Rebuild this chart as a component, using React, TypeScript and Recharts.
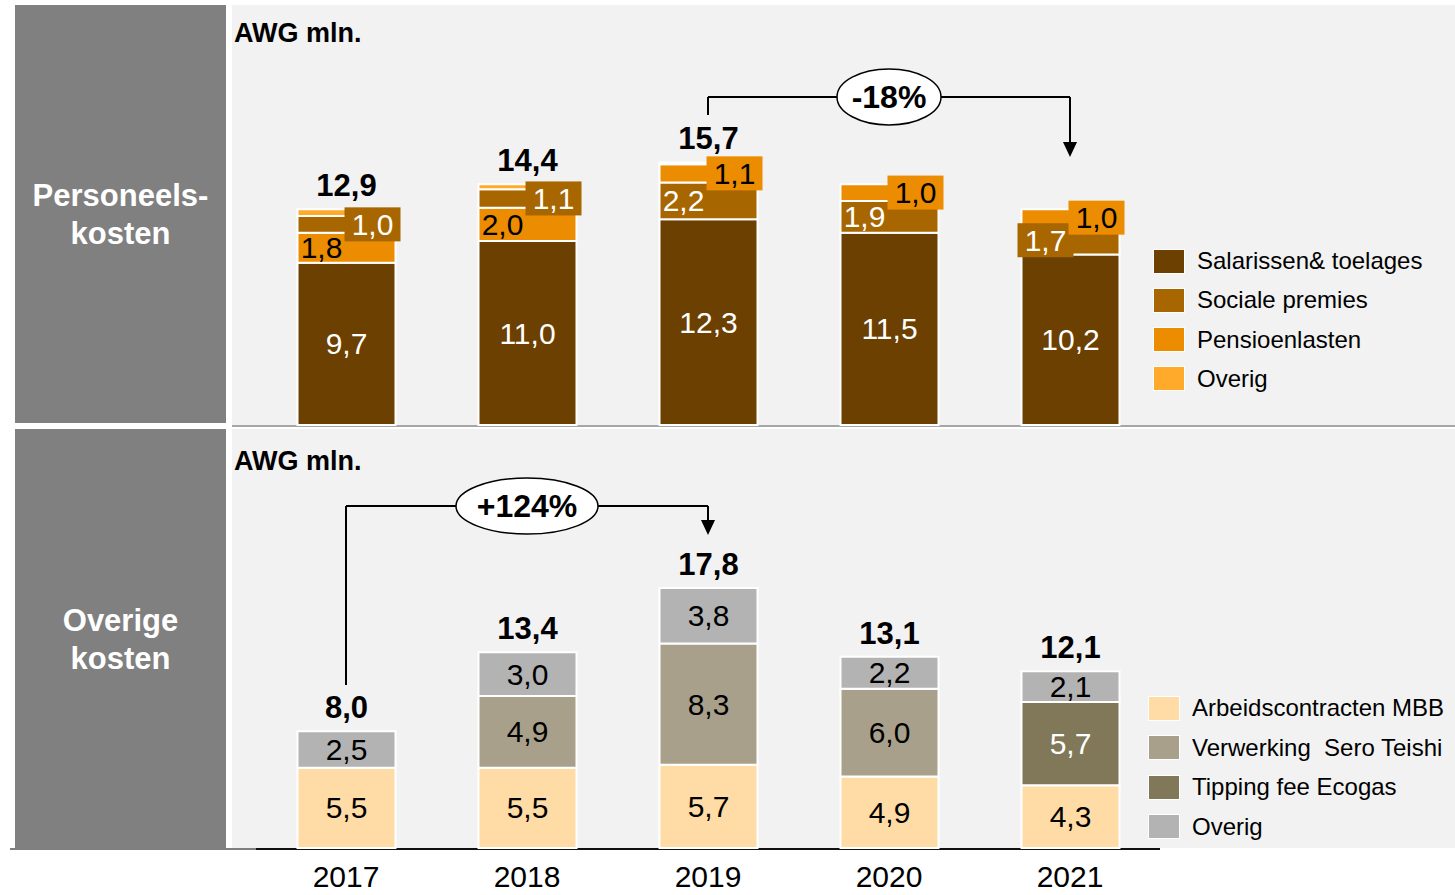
import React from 'react';
import { BarChart, Bar, XAxis, YAxis, LabelList, ReferenceLine, ReferenceDot } from 'recharts';

const FONT = '"Liberation Sans", Arial, sans-serif';

const years = ['2017', '2018', '2019', '2020', '2021'];

// Personeelskosten, AWG mln.
const salarissen = [9.7, 11.0, 12.3, 11.5, 10.2];
const socialePremies = [1.0, 1.1, 2.2, 1.9, 1.7];
const pensioenlasten = [1.8, 2.0, 1.1, 1.0, 1.0];
const overigPersoneel = [0.4, 0.3, 0.1, 0.0, 0.0];
const totaalPersoneel = [12.9, 14.4, 15.7, 14.4, 12.9];
// in 2017 and 2018 the pension block is drawn below sociale premies
const pensioenOnder = [true, true, false, false, false];

// Overige kosten, AWG mln.
const arbeidscontracten = [5.5, 5.5, 5.7, 4.9, 4.3];
const verwerkingSero = [0, 4.9, 8.3, 6.0, 0];
const tippingFee = [0, 0, 0, 0, 5.7];
const overigKosten = [2.5, 3.0, 3.8, 2.2, 2.1];
const totaalOverig = [8.0, 13.4, 17.8, 13.1, 12.1];

// growth brackets: from / to category, heights in AWG mln.
const bracketTop = { from: '2019', to: '2021', mid: '2020', start: 18.54, line: 19.62, tip: 16.03, text: '-18%', rx: 52 };
const bracketBottom = { from: '2017', to: '2019', mid: '2018', start: 11.16, line: 23.41, tip: 21.43, text: '+124%', rx: 71 };

const C = {
  sal: '#6B4000',
  soc: '#A86600',
  pens: '#EC8C00',
  ovP: '#FFAA2A',
  arb: '#FFDBA6',
  ver: '#A8A08A',
  tip: '#807859',
  ovK: '#B3B3B3',
};

const personeelLegend = [
  { name: 'Salarissen& toelages', color: C.sal },
  { name: 'Sociale premies', color: C.soc },
  { name: 'Pensioenlasten', color: C.pens },
  { name: 'Overig', color: C.ovP },
];
const overigLegend = [
  { name: 'Arbeidscontracten MBB', color: C.arb },
  { name: 'Verwerking  Sero Teishi', color: C.ver },
  { name: 'Tipping fee Ecogas', color: C.tip },
  { name: 'Overig', color: C.ovK },
];

const personeelData = years.map((year, i) => ({
  year,
  sal: salarissen[i],
  pensLow: pensioenOnder[i] ? pensioenlasten[i] : 0,
  soc: socialePremies[i],
  pensHigh: pensioenOnder[i] ? 0 : pensioenlasten[i],
  ov: overigPersoneel[i],
  socLowLabel: pensioenOnder[i] ? null : socialePremies[i],
  socHighLabel: pensioenOnder[i] ? socialePremies[i] : null,
  total: totaalPersoneel[i],
}));

const overigData = years.map((year, i) => ({
  year,
  arb: arbeidscontracten[i],
  ver: verwerkingSero[i],
  tip: tippingFee[i],
  ov: overigKosten[i],
  total: totaalOverig[i],
}));

const fmt = (v: number) => v.toFixed(1).replace('.', ',');

const rectOf = (p: any) => {
  const vb = p.viewBox || {};
  return {
    x: Number(p.x ?? vb.x),
    y: Number(p.y ?? vb.y),
    width: Number(p.width ?? vb.width),
    height: Number(p.height ?? vb.height),
  };
};

const centerLabel = (color: string) => (p: any) => {
  if (p.value == null || !Number(p.value)) return null;
  const r = rectOf(p);
  return (
    <text x={r.x + r.width / 2} y={r.y + r.height / 2} fill={color} fontSize={30}
      fontFamily={FONT} textAnchor="middle" dominantBaseline="central">
      {fmt(Number(p.value))}
    </text>
  );
};

// label sitting at the left side of the lower of the two small blocks
const lowerLabel = (fill: string, color: string) => (p: any) => {
  if (p.value == null || !Number(p.value)) return null;
  const r = rectOf(p);
  const cy = r.y + r.height / 2;
  return (
    <g>
      {r.height < 30 && <rect x={r.x - 4} y={cy - 17} width={56} height={34} fill={fill} />}
      <text x={r.x + 24} y={cy} fill={color} fontSize={30} fontFamily={FONT}
        textAnchor="middle" dominantBaseline="central">
        {fmt(Number(p.value))}
      </text>
    </g>
  );
};

// boxed label at the right side for the upper small block
const upperLabel = (fill: string, color: string) => (p: any) => {
  if (p.value == null || !Number(p.value)) return null;
  const r = rectOf(p);
  const cy = r.y + r.height / 2;
  return (
    <g>
      <rect x={r.x + 47} y={cy - 17} width={56} height={34} fill={fill} />
      <text x={r.x + 75} y={cy} fill={color} fontSize={30} fontFamily={FONT}
        textAnchor="middle" dominantBaseline="central">
        {fmt(Number(p.value))}
      </text>
    </g>
  );
};

const totalLabel = (p: any) => {
  const r = rectOf(p);
  return (
    <text x={r.x + r.width / 2} y={r.y - 13} fill="#000" fontSize={31} fontWeight="bold"
      fontFamily={FONT} textAnchor="middle">
      {fmt(Number(p.value))}
    </text>
  );
};

const arrowHead = (p: any) => (
  <path d={`M${p.cx - 7},${p.cy - 15} L${p.cx + 7},${p.cy - 15} L${p.cx},${p.cy} Z`} fill="#000" />
);

const bubble = (text: string, rx: number) => (p: any) => (
  <g>
    <ellipse cx={p.cx} cy={p.cy} rx={rx} ry={28} fill="#fff" stroke="#000" strokeWidth={1.5} />
    <text x={p.cx} y={p.cy} fontSize={32} fontWeight="bold" fontFamily={FONT}
      textAnchor="middle" dominantBaseline="central" fill="#000">
      {text}
    </text>
  </g>
);

const Bracket = (b: typeof bracketTop) => [
  <ReferenceLine key="a" segment={[{ x: b.from, y: b.start }, { x: b.from, y: b.line }]} stroke="#000" strokeWidth={2} />,
  <ReferenceLine key="b" segment={[{ x: b.from, y: b.line }, { x: b.to, y: b.line }]} stroke="#000" strokeWidth={2} />,
  <ReferenceLine key="c" segment={[{ x: b.to, y: b.line }, { x: b.to, y: b.tip + 0.6 }]} stroke="#000" strokeWidth={2} />,
  <ReferenceDot key="d" x={b.to} y={b.tip} r={1} shape={arrowHead} />,
  <ReferenceDot key="e" x={b.mid} y={b.line} r={1} shape={bubble(b.text, b.rx)} />,
];

const yearTick = (p: any) => (
  <text x={p.x} y={p.y + 39} textAnchor="middle" fontSize={30} fontFamily={FONT} fill="#000">
    {p.payload.value}
  </text>
);

const Legend = ({ items, left, top, gap }: { items: { name: string; color: string }[]; left: number; top: number; gap: number }) => (
  <div style={{ position: 'absolute', left, top }}>
    {items.map((it, i) => (
      <div key={it.name} style={{ position: 'absolute', top: i * gap, left: 0, display: 'flex', alignItems: 'center', whiteSpace: 'pre' }}>
        <div style={{ width: 32, height: 25, background: it.color, border: '1px solid #fff', boxSizing: 'border-box' }} />
        <span style={{ marginLeft: 12, fontSize: 24, fontFamily: FONT, color: '#000' }}>{it.name}</span>
      </div>
    ))}
  </div>
);

const sideLabel: React.CSSProperties = {
  position: 'absolute', left: 15, width: 211, background: '#808080', color: '#fff',
  fontFamily: FONT, fontWeight: 'bold', fontSize: 31, lineHeight: '38px',
  display: 'flex', alignItems: 'center', justifyContent: 'center', textAlign: 'center',
};

export default function App() {
  return (
    <div style={{ position: 'absolute', left: 0, top: 0, width: 1455, height: 895, background: '#fff', overflow: 'hidden' }}>
      <div style={{ ...sideLabel, top: 5, height: 418 }}>
        <div style={{ marginTop: 2 }}>Personeels-<br />kosten</div>
      </div>
      <div style={{ ...sideLabel, top: 429, height: 419 }}>
        <div style={{ marginTop: 2 }}>Overige<br />kosten</div>
      </div>

      <div style={{ position: 'absolute', left: 232, top: 5, width: 1223, height: 420, background: '#F2F2F2' }} />
      <div style={{ position: 'absolute', left: 232, top: 425, width: 1223, height: 2, background: '#A6A6A6' }} />
      <div style={{ position: 'absolute', left: 232, top: 429, width: 1223, height: 419, background: '#F2F2F2' }} />
      <div style={{ position: 'absolute', left: 10, top: 848, width: 246, height: 2, background: '#7F7F7F' }} />
      <div style={{ position: 'absolute', left: 256, top: 848, width: 904, height: 2, background: '#111' }} />

      <div style={{ position: 'absolute', left: 234, top: 18, fontFamily: FONT, fontWeight: 'bold', fontSize: 27 }}>AWG mln.</div>
      <div style={{ position: 'absolute', left: 234, top: 446, fontFamily: FONT, fontWeight: 'bold', fontSize: 27 }}>AWG mln.</div>

      <div style={{ position: 'absolute', left: 232, top: 0 }}>
        <BarChart width={1223} height={430} data={personeelData}
          margin={{ top: 7, right: 294.5, bottom: 5, left: 23.5 }} barSize={98}>
          <XAxis dataKey="year" hide />
          <YAxis hide domain={[0, 25]} />
          <Bar dataKey="sal" stackId="p" fill={C.sal} stroke="#fff" strokeWidth={2} isAnimationActive={false}>
            <LabelList dataKey="sal" content={centerLabel('#fff')} />
          </Bar>
          <Bar dataKey="pensLow" stackId="p" fill={C.pens} stroke="#fff" strokeWidth={2} isAnimationActive={false}>
            <LabelList dataKey="pensLow" content={lowerLabel(C.pens, '#000')} />
          </Bar>
          <Bar dataKey="soc" stackId="p" fill={C.soc} stroke="#fff" strokeWidth={2} isAnimationActive={false}>
            <LabelList dataKey="socLowLabel" content={lowerLabel(C.soc, '#fff')} />
            <LabelList dataKey="socHighLabel" content={upperLabel(C.soc, '#fff')} />
          </Bar>
          <Bar dataKey="pensHigh" stackId="p" fill={C.pens} stroke="#fff" strokeWidth={2} isAnimationActive={false}>
            <LabelList dataKey="pensHigh" content={upperLabel(C.pens, '#000')} />
          </Bar>
          <Bar dataKey="ov" stackId="p" fill={C.ovP} stroke="#fff" strokeWidth={2} isAnimationActive={false}>
            <LabelList dataKey="total" content={totalLabel} />
          </Bar>
          {Bracket(bracketTop)}
        </BarChart>
      </div>

      <div style={{ position: 'absolute', left: 232, top: 430 }}>
        <BarChart width={1223} height={465} data={overigData}
          margin={{ top: 9, right: 294.5, bottom: 0, left: 23.5 }} barSize={98}>
          <XAxis dataKey="year" axisLine={false} tickLine={false} tickSize={0} tickMargin={0}
            height={47} tick={yearTick} interval={0} />
          <YAxis hide domain={[0, 28]} />
          <Bar dataKey="arb" stackId="o" fill={C.arb} stroke="#fff" strokeWidth={2} isAnimationActive={false}>
            <LabelList dataKey="arb" content={centerLabel('#000')} />
          </Bar>
          <Bar dataKey="ver" stackId="o" fill={C.ver} stroke="#fff" strokeWidth={2} isAnimationActive={false}>
            <LabelList dataKey="ver" content={centerLabel('#000')} />
          </Bar>
          <Bar dataKey="tip" stackId="o" fill={C.tip} stroke="#fff" strokeWidth={2} isAnimationActive={false}>
            <LabelList dataKey="tip" content={centerLabel('#fff')} />
          </Bar>
          <Bar dataKey="ov" stackId="o" fill={C.ovK} stroke="#fff" strokeWidth={2} isAnimationActive={false}>
            <LabelList dataKey="ov" content={centerLabel('#000')} />
            <LabelList dataKey="total" content={totalLabel} />
          </Bar>
          {Bracket(bracketBottom)}
        </BarChart>
      </div>

      <Legend items={personeelLegend} left={1153} top={247} gap={39.3} />
      <Legend items={overigLegend} left={1148} top={694} gap={39.5} />
    </div>
  );
}
